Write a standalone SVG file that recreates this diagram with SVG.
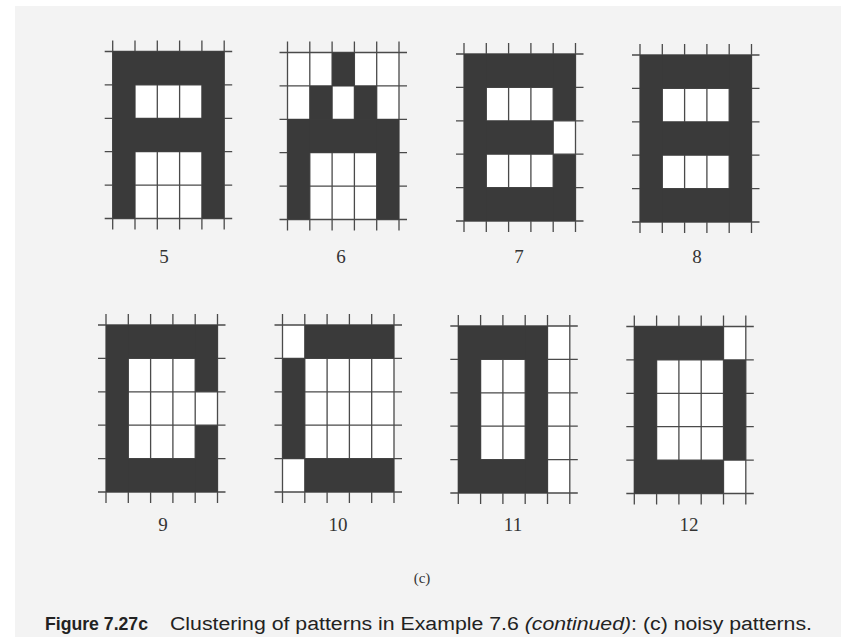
<svg xmlns="http://www.w3.org/2000/svg" xmlns:xlink="http://www.w3.org/1999/xlink" width="841" height="637" viewBox="0 0 841 637">
<style>
.gl{stroke:#4a4a4a;stroke-width:1.3;fill:none}
.k{fill:#3a3a3a}
.num{font-family:"Liberation Serif",serif;font-size:19px;fill:#333;text-anchor:middle}
.cap{font-family:"Liberation Sans",Arial,sans-serif;font-size:18px;fill:#222}
</style>
<defs>
<g id="grid">
<rect x="0" y="0" width="111.5" height="167" fill="#ffffff"/>
<path class="gl" d="M0,-11V178M22.3,-11V178M44.6,-11V178M66.9,-11V178M89.2,-11V178M111.5,-11V178M-8,0H119.5M-8,33.4H119.5M-8,66.8H119.5M-8,100.2H119.5M-8,133.6H119.5M-8,167H119.5"/>
</g>
</defs>
<rect x="0" y="0" width="841" height="637" fill="#ffffff"/>
<rect x="15" y="6" width="826" height="631" fill="#f3f3f3"/>
<g id="p5" transform="translate(112.7,51.5)">
<use xlink:href="#grid"/>
<rect class="k" x="0" y="0" width="111.5" height="33.4"/>
<rect class="k" x="0" y="66.8" width="111.5" height="33.4"/>
<rect class="k" x="0" y="0" width="22.3" height="167"/>
<rect class="k" x="89.2" y="0" width="22.3" height="167"/>
</g>
<g id="p6" transform="translate(287.5,52.5)">
<use xlink:href="#grid"/>
<rect class="k" x="44.6" y="0" width="22.3" height="33.6"/>
<rect class="k" x="22.3" y="33.4" width="22.3" height="33.6"/>
<rect class="k" x="66.9" y="33.4" width="22.3" height="33.6"/>
<rect class="k" x="0" y="66.8" width="111.5" height="33.4"/>
<rect class="k" x="0" y="66.8" width="22.3" height="100.2"/>
<rect class="k" x="89.2" y="66.8" width="22.3" height="100.2"/>
</g>
<g id="p7" transform="translate(464,54)">
<use xlink:href="#grid"/>
<rect class="k" x="0" y="0" width="111.5" height="33.4"/>
<rect class="k" x="0" y="133.6" width="111.5" height="33.4"/>
<rect class="k" x="0" y="66.8" width="89.2" height="33.4"/>
<rect class="k" x="0" y="0" width="22.3" height="167"/>
<rect class="k" x="89.2" y="0" width="22.3" height="66.8"/>
<rect class="k" x="89.2" y="100.2" width="22.3" height="66.8"/>
</g>
<g id="p8" transform="translate(640,55)">
<use xlink:href="#grid"/>
<rect class="k" x="0" y="0" width="111.5" height="33.4"/>
<rect class="k" x="0" y="66.8" width="111.5" height="33.4"/>
<rect class="k" x="0" y="133.6" width="111.5" height="33.4"/>
<rect class="k" x="0" y="0" width="22.3" height="167"/>
<rect class="k" x="89.2" y="0" width="22.3" height="167"/>
</g>
<g id="p9" transform="translate(106,325)">
<use xlink:href="#grid"/>
<rect class="k" x="0" y="0" width="111.5" height="33.4"/>
<rect class="k" x="0" y="133.6" width="111.5" height="33.4"/>
<rect class="k" x="0" y="0" width="22.3" height="167"/>
<rect class="k" x="89.2" y="0" width="22.3" height="66.8"/>
<rect class="k" x="89.2" y="100.2" width="22.3" height="66.8"/>
</g>
<g id="p10" transform="translate(282.5,325)">
<use xlink:href="#grid"/>
<rect class="k" x="22.3" y="0" width="89.2" height="33.4"/>
<rect class="k" x="22.3" y="133.6" width="89.2" height="33.4"/>
<rect class="k" x="0" y="33.4" width="22.3" height="100.2"/>
</g>
<g id="p11" transform="translate(458.3,326)">
<use xlink:href="#grid"/>
<rect class="k" x="0" y="0" width="89.2" height="33.4"/>
<rect class="k" x="0" y="133.6" width="89.2" height="33.4"/>
<rect class="k" x="0" y="0" width="22.3" height="167"/>
<rect class="k" x="66.9" y="0" width="22.3" height="167"/>
</g>
<g id="p12" transform="translate(634.3,326.5)">
<use xlink:href="#grid"/>
<rect class="k" x="0" y="0" width="89.2" height="33.4"/>
<rect class="k" x="0" y="133.6" width="89.2" height="33.4"/>
<rect class="k" x="0" y="0" width="22.3" height="167"/>
<rect class="k" x="89.2" y="33.4" width="22.3" height="100.2"/>
</g>
<g id="labels">
<text class="num" x="164" y="263">5</text>
<text class="num" x="341" y="263">6</text>
<text class="num" x="519" y="263">7</text>
<text class="num" x="697" y="263">8</text>
<text class="num" x="163" y="531">9</text>
<text class="num" x="338" y="531">10</text>
<text class="num" x="513" y="531">11</text>
<text class="num" x="689" y="531">12</text>
<text class="num" x="422" y="583" style="font-size:15px">(c)</text>
</g>
<g id="caption">
<text class="cap" x="45" y="630" font-weight="bold" textLength="103" lengthAdjust="spacingAndGlyphs">Figure 7.27c</text>
<text class="cap" x="170" y="630" textLength="642" lengthAdjust="spacingAndGlyphs">Clustering of patterns in Example 7.6 <tspan font-style="italic">(continued)</tspan>: (c) noisy patterns.</text>
</g>
</svg>
